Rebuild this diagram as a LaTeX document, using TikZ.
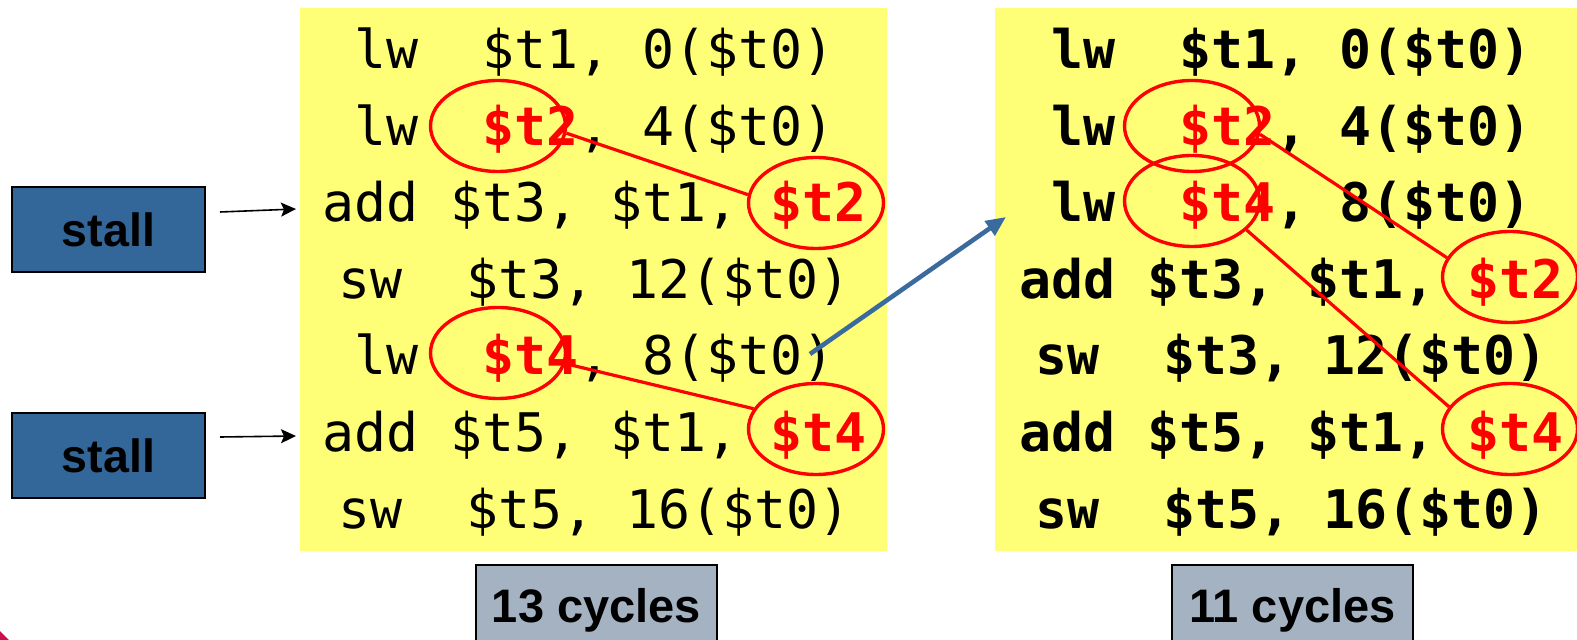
\documentclass[tikz,border=0pt]{standalone}
\usepackage{fontspec}
\setmainfont{Liberation Sans}
\setmonofont{DejaVu Sans Mono}
\usetikzlibrary{shapes.geometric,arrows.meta}
\definecolor{codebg}{HTML}{FFFF77}
\definecolor{stallblue}{HTML}{336699}
\definecolor{cyclegrey}{HTML}{A4B2C2}
\definecolor{jumpblue}{HTML}{3A6A9E}
\definecolor{hotred}{HTML}{FF0000}
\definecolor{logored}{HTML}{C8104A}
\newcommand{\hot}[1]{\textcolor{hotred}{\bfseries #1}}
\begin{document}
\begin{tikzpicture}[x=0.5pt,y=-0.5pt,
  code/.style={anchor=base west,inner sep=0pt,font=\ttfamily\fontsize{26.6}{30}\selectfont},
  boldcode/.style={code,font=\ttfamily\bfseries\fontsize{26.6}{30}\selectfont},
  reg/.style={draw=hotred,line width=1.7pt,ellipse,minimum width=67.5pt,minimum height=45.5pt,inner sep=0pt},
  dep/.style={draw=hotred,line width=1.6pt},
  stallbox/.style={draw=black,line width=0.85pt,fill=stallblue,minimum width=96.5pt,minimum height=42.5pt,inner sep=0pt,font=\bfseries\fontsize{23.3}{26}\selectfont},
  cyclebox/.style={draw=black,line width=0.8pt,fill=cyclegrey,anchor=north,minimum width=120.5pt,inner sep=0pt,text height=29pt,text depth=20pt,font=\bfseries\fontsize{23.5}{26}\selectfont},
  stallarrow/.style={-{Stealth[length=7.5pt,width=7pt,inset=1.5pt]},line width=0.8pt},
  jump/.style={draw=jumpblue,line width=2.3pt,-{Triangle[length=10pt,width=8.5pt]}}]
\useasboundingbox (0,0) rectangle (1577,640);
\fill[codebg] (300,8) rectangle (887,551);
\fill[codebg] (995,8) rectangle (1577,551);
\fill[logored] (0,631) -- (9,640) -- (0,640) -- cycle;

\node[code] (a1) at (322,69) {~lw~~\$t1,~0(\$t0)};
\node[code] (a2) at (322,145.5) {~lw~~\hot{\$t2},~4(\$t0)};
\node[code] (a3) at (322,222) {add~\$t3,~\$t1,~\hot{\$t2}};
\node[code] (a4) at (338,298.5) {sw~~\$t3,~12(\$t0)};
\node[code] (a5) at (322,375) {~lw~~\hot{\$t4},~8(\$t0)};
\node[code] (a6) at (322,451.5) {add~\$t5,~\$t1,~\hot{\$t4}};
\node[code] (a7) at (338,528) {sw~~\$t5,~16(\$t0)};

\node[boldcode] (b1) at (1019,69) {~lw~~\$t1,~0(\$t0)};
\node[boldcode] (b2) at (1019,145.5) {~lw~~\hot{\$t2},~4(\$t0)};
\node[boldcode] (b3) at (1019,222) {~lw~~\hot{\$t4},~8(\$t0)};
\node[boldcode] (b4) at (1019,298.5) {add~\$t3,~\$t1,~\hot{\$t2}};
\node[boldcode] (b5) at (1035,375) {sw~~\$t3,~12(\$t0)};
\node[boldcode] (b6) at (1019,451.5) {add~\$t5,~\$t1,~\hot{\$t4}};
\node[boldcode] (b7) at (1035,528) {sw~~\$t5,~16(\$t0)};

\node[reg] (ld2) at (498,126) {};
\node[reg] (lu2) at (816,203) {};
\node[reg] (ld4) at (498,353) {};
\node[reg] (lu4) at (816,429) {};
\draw[dep] (ld2.-6) -- (lu2.173);
\draw[dep] (ld4.-9) -- (lu4.162);

\node[reg] (rd2) at (1192,126) {};
\node[reg] (rd4) at (1192,201) {};
\node[reg] (ru2) at (1510,277) {};
\node[reg] (ru4) at (1510,429) {};
\draw[dep] (rd2.-7) -- (ru2.163);
\draw[dep] (rd4.-28) -- (ru4.160);

\node[stallbox] (stall1) at (108.5,229.5) {stall};
\node[stallbox] (stall2) at (108.5,455.5) {stall};
\coordinate (s1) at (220,212);
\coordinate (t1) at (296,209);
\coordinate (s2) at (220,437);
\coordinate (t2) at (296,436);
\draw[stallarrow] (s1) -- (t1);
\draw[stallarrow] (s2) -- (t2);

\coordinate (jumpfrom) at (810,354);
\coordinate (jumpto) at (1006,217);
\draw[jump] (jumpfrom) -- (jumpto);

\node[cyclebox] (slow) at (596.5,564) {13 cycles};
\node[cyclebox] (fast) at (1292.5,564) {11 cycles};
\end{tikzpicture}
\end{document}
